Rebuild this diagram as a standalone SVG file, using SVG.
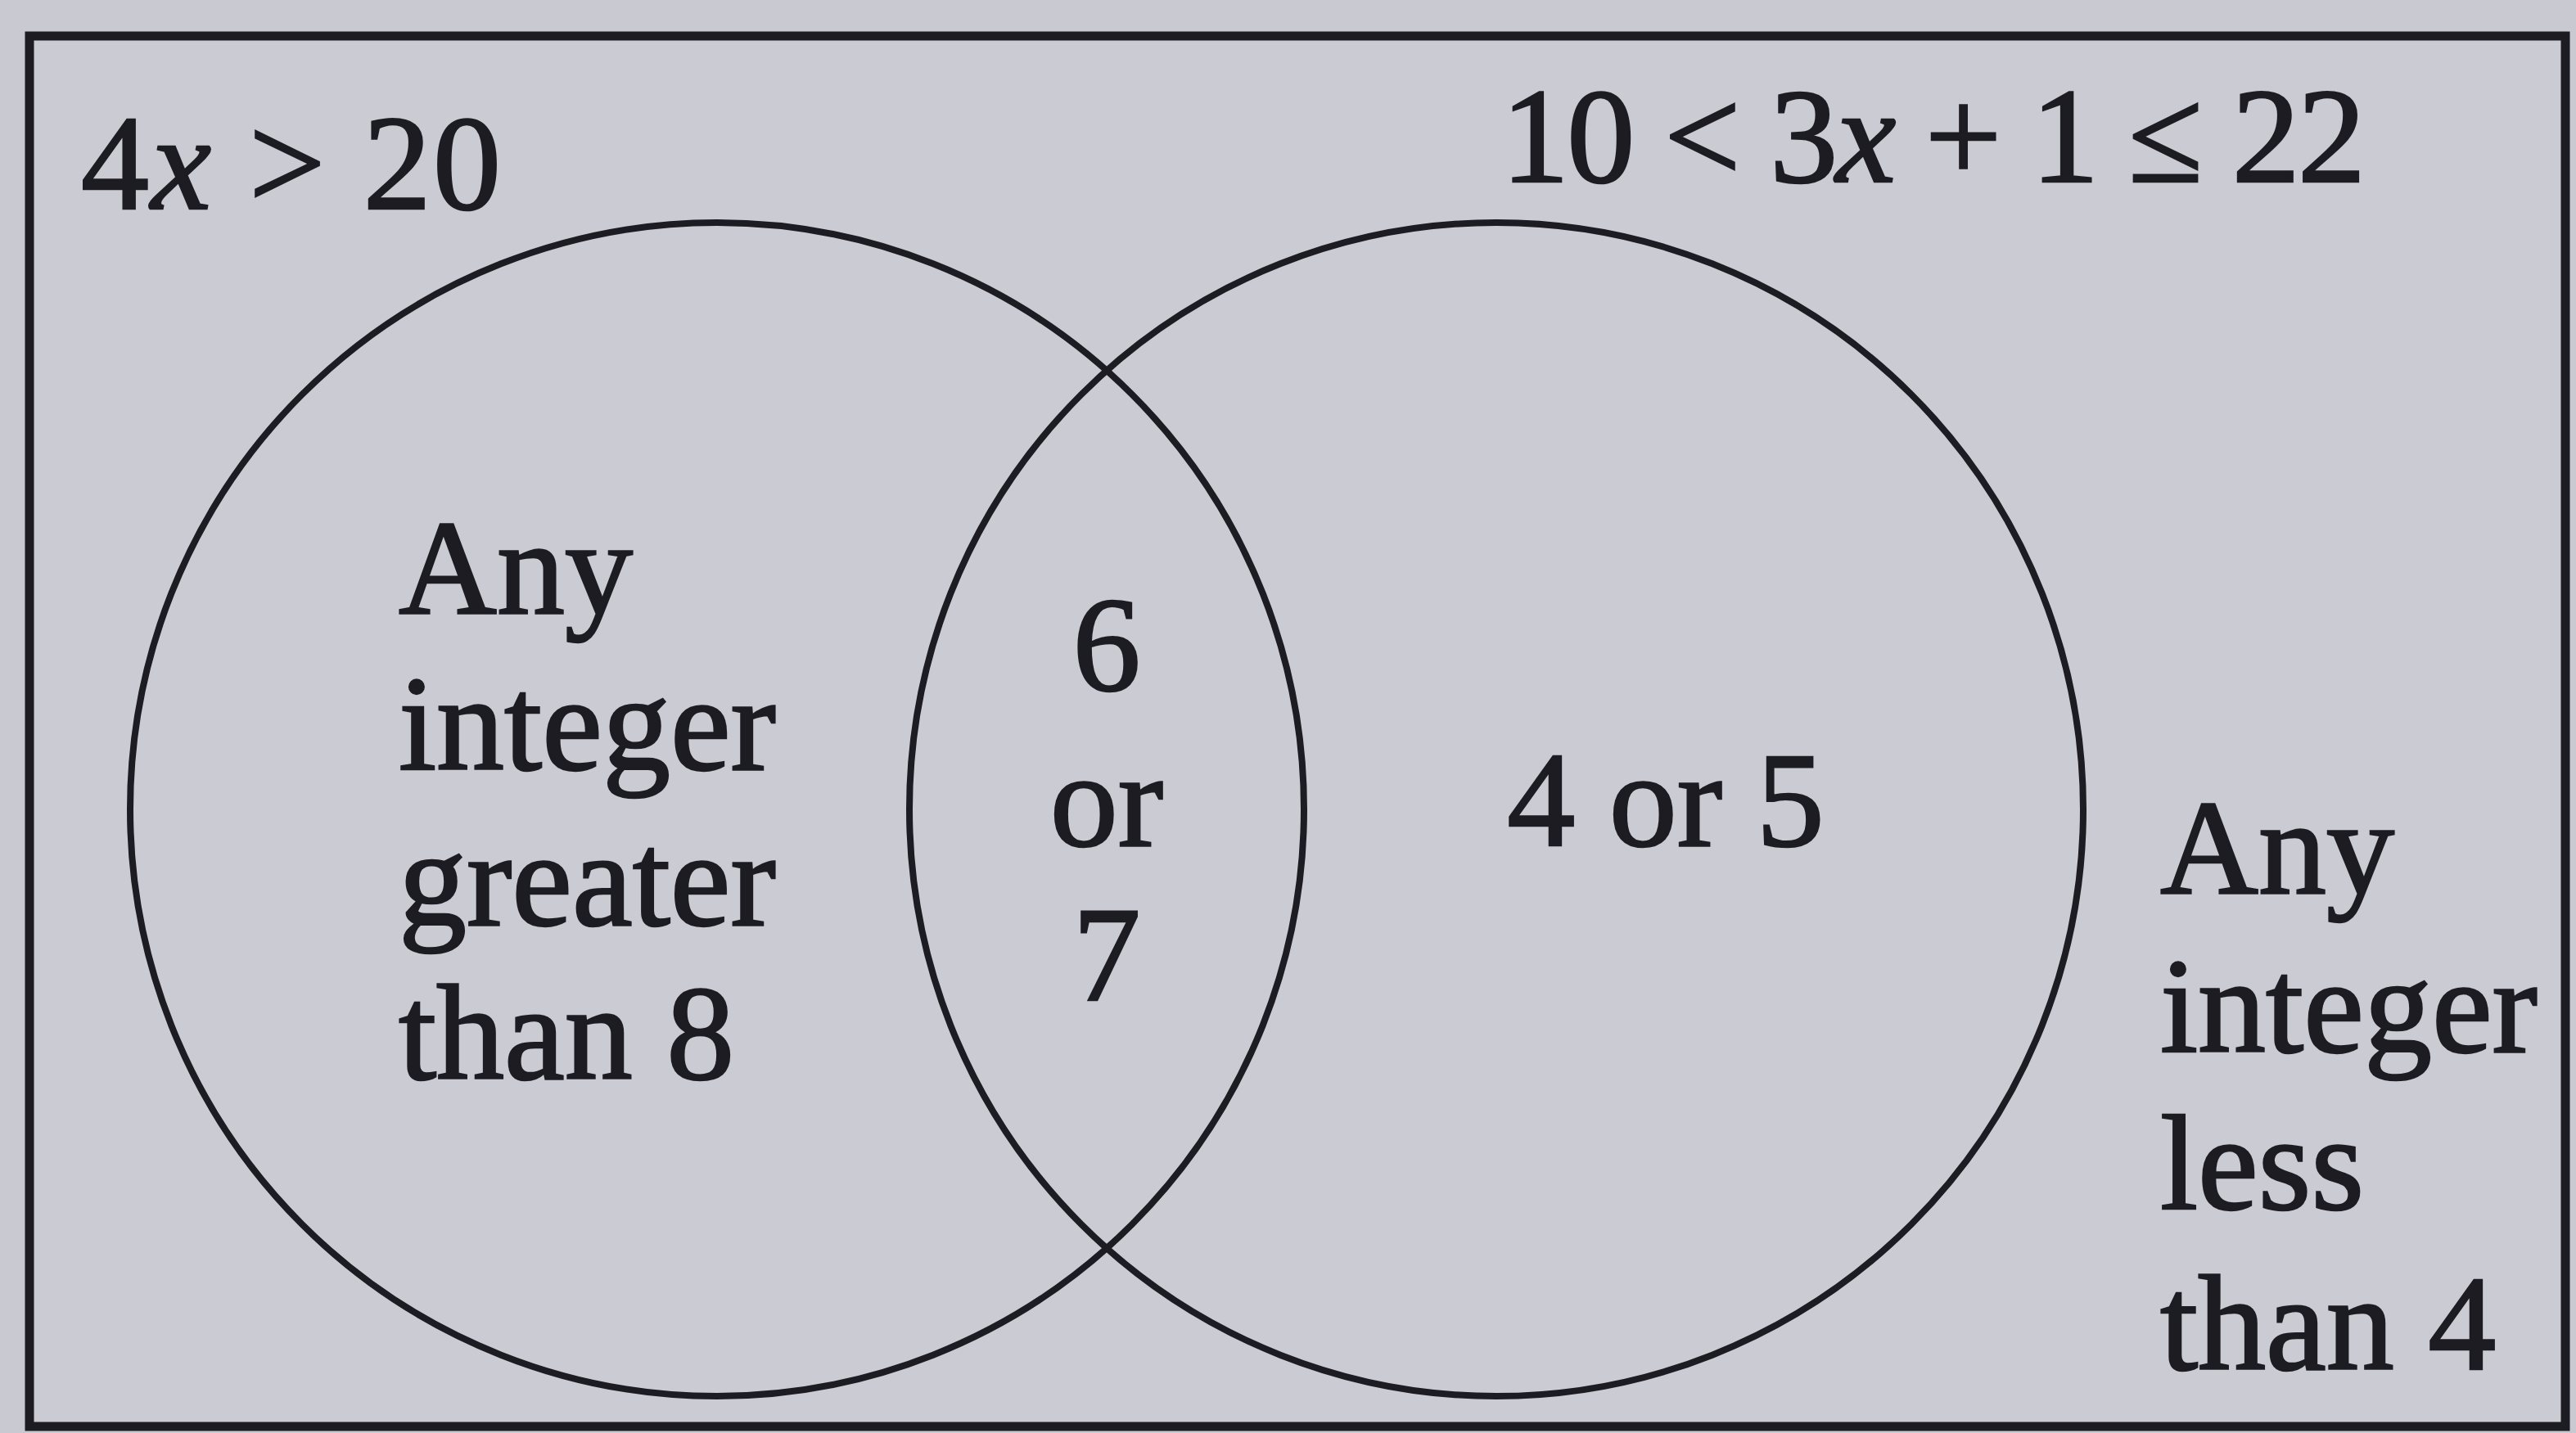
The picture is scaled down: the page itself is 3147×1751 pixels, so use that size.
<svg xmlns="http://www.w3.org/2000/svg" width="3147" height="1751" viewBox="0 0 3147 1751">
<style>
.t{font-family:"Liberation Serif","Times New Roman",serif;font-size:166px;fill:#1c1c22;stroke:#1c1c22;stroke-width:2.5}
.c{fill:none;stroke:#1c1c22;stroke-width:8}
.m{text-anchor:middle}
.i{font-style:italic}
</style>
<rect x="0" y="0" width="3147" height="1751" fill="#c9c9d1"/>
<g id="universal">
<rect x="36" y="44" width="3098" height="1699" fill="#cbcbd3" stroke="#1c1c22" stroke-width="11"/>
</g>
<g id="setA">
<circle class="c" cx="876" cy="989" r="717"/>
<text class="t" x="99" y="255" textLength="513" lengthAdjust="spacing">4<tspan class="i">x</tspan> &gt; 20</text>
</g>
<g id="setB">
<circle class="c" cx="1828" cy="989" r="717"/>
<text class="t" x="1834" y="222" textLength="1056" lengthAdjust="spacing">10 &lt; 3<tspan class="i">x</tspan> + 1 ≤ 22</text>
</g>
<g id="onlyA">
<text class="t" x="487" y="750">Any</text>
<text class="t" x="487" y="940">integer</text>
<text class="t" x="487" y="1130">greater</text>
<text class="t" x="487" y="1318">than 8</text>
</g>
<g id="intersection">
<text class="t m" x="1352" y="843">6</text>
<text class="t m" x="1352" y="1033">or</text>
<text class="t m" x="1352" y="1222">7</text>
</g>
<g id="onlyB">
<text class="t m" x="2035" y="1033">4 or 5</text>
</g>
<g id="outside">
<text class="t" x="2639" y="1092">Any</text>
<text class="t" x="2639" y="1285">integer</text>
<text class="t" x="2639" y="1477">less</text>
<text class="t" x="2639" y="1673">than 4</text>
</g>
<g id="connectors"></g>
</svg>
